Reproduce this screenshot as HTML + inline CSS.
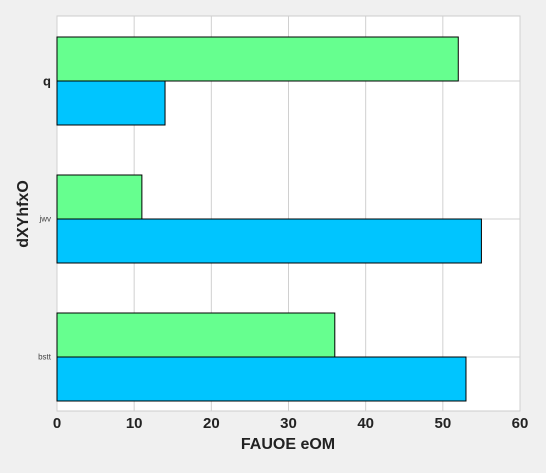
<!DOCTYPE html>
<html><head><meta charset="utf-8"><style>
body{margin:0;background:#f0f0f0;width:546px;height:468px;overflow:hidden;font-family:"Liberation Sans",sans-serif}
</style></head><body>
<svg id="c" width="546" height="468" xmlns="http://www.w3.org/2000/svg"></svg>
<script>
const categories=["q","jwv","bstt"];
const greenValues=[52,11,36];
const blueValues=[14,55,53];
const xTicks=[0,10,20,30,40,50,60];
const catFont=[13,8,8];
const NS="http://www.w3.org/2000/svg";
const svg=document.getElementById('c');
const x0=57,x1=520,y0=16,y1=411;
const xs=v=>x0+(v-0)/60*(x1-x0);
const yc=i=>81+i*138;
const bh=44;
function mk(t,a){const e=document.createElementNS(NS,t);for(const k in a)e.setAttribute(k,a[k]);svg.appendChild(e);return e;}
const bg=mk('rect',{x:x0,y:y0,width:x1-x0,height:y1-y0,fill:'#fff',stroke:'#ccc'});


xTicks.forEach(t=>{const l=mk('line',{x1:xs(t),x2:xs(t),y1:y0,y2:y1,stroke:'#d0d0d0'});


const tx=mk('text',{x:xs(t),y:428,'text-anchor':'middle','font-size':15,'font-weight':'bold',fill:'#222'});tx.textContent=t;

});
categories.forEach((c,i)=>{const g=mk('line',{x1:x0,x2:x1,y1:yc(i),y2:yc(i),stroke:'#d0d0d0'});


const r1=mk('rect',{x:xs(0),y:yc(i)-bh,width:xs(greenValues[i])-xs(0),height:bh,fill:'#66ff8f',stroke:'#000','stroke-width':1});


const r2=mk('rect',{x:xs(0),y:yc(i),width:xs(blueValues[i])-xs(0),height:bh,fill:'#00c5ff',stroke:'#000','stroke-width':1});


const t=mk('text',{x:51,y:yc(i)+catFont[i]/3,'text-anchor':'end','font-size':catFont[i],'font-weight':i==0?'bold':'normal',fill:i==0?'#222':'#444'});t.textContent=c;

});
const xt=mk('text',{x:288,y:449,'text-anchor':'middle','font-size':16,'font-weight':'bold',fill:'#222'});xt.textContent='FAUOE  eOM';


const yt=mk('text',{x:28,y:214,'text-anchor':'middle','font-size':16,'font-weight':'bold',fill:'#222',transform:'rotate(-90 28 214)'});yt.textContent='dXYhfxO';


</script>
</body></html>
